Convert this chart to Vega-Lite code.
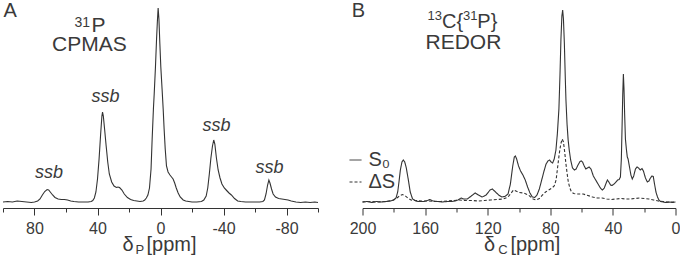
{
  "$schema": "https://vega.github.io/schema/vega-lite/v6.json",
  "padding": {"left": 0, "top": 0, "right": 0, "bottom": 0},
  "background": "white",
  "bounds": "flush",
  "spacing": 44.5,
  "resolve": {"legend": {"strokeDash": "independent"}},
  "config": {
    "view": {"stroke": null},
    "font": "Liberation Sans",
    "text": {"color": "#3a3a3a", "font": "Liberation Sans"},
    "axis": {"labelFont": "Liberation Sans", "labelFontSize": 16, "labelColor": "#3a3a3a", "domainColor": "#333333", "tickColor": "#333333", "grid": false, "labelFlush": false, "labelOverlap": false}
  },
  "datasets": {
    "specA": [
      {"ppm": 100, "intensity": 2}, {"ppm": 97, "intensity": 2.5}, {"ppm": 94, "intensity": 2}, {"ppm": 91, "intensity": 3}, {"ppm": 88, "intensity": 2.5}, {"ppm": 85, "intensity": 2}, {"ppm": 82, "intensity": 1.5}, {"ppm": 80, "intensity": 2}, {"ppm": 78, "intensity": 3}, {"ppm": 76.5, "intensity": 5}, {"ppm": 75, "intensity": 9}, {"ppm": 73.5, "intensity": 12.5}, {"ppm": 72, "intensity": 14.5}, {"ppm": 71, "intensity": 14}, {"ppm": 70, "intensity": 12}, {"ppm": 68.5, "intensity": 9}, {"ppm": 67, "intensity": 6.5}, {"ppm": 65, "intensity": 5}, {"ppm": 63, "intensity": 4.5}, {"ppm": 61, "intensity": 4.5}, {"ppm": 59, "intensity": 4}, {"ppm": 57, "intensity": 3}, {"ppm": 55, "intensity": 2.5}, {"ppm": 52, "intensity": 2}, {"ppm": 49, "intensity": 2}, {"ppm": 46, "intensity": 2}, {"ppm": 44, "intensity": 2.5}, {"ppm": 43, "intensity": 3.5}, {"ppm": 42, "intensity": 6}, {"ppm": 41, "intensity": 12}, {"ppm": 40, "intensity": 25}, {"ppm": 39, "intensity": 45}, {"ppm": 38, "intensity": 70}, {"ppm": 37.2, "intensity": 88}, {"ppm": 36.8, "intensity": 92}, {"ppm": 36.3, "intensity": 88}, {"ppm": 35.5, "intensity": 75}, {"ppm": 34.5, "intensity": 58}, {"ppm": 33.5, "intensity": 42}, {"ppm": 32.5, "intensity": 30}, {"ppm": 31, "intensity": 22}, {"ppm": 29.5, "intensity": 18}, {"ppm": 28, "intensity": 16.5}, {"ppm": 27, "intensity": 17}, {"ppm": 26, "intensity": 16.5}, {"ppm": 24.5, "intensity": 14}, {"ppm": 23, "intensity": 10}, {"ppm": 21, "intensity": 6.5}, {"ppm": 19, "intensity": 4.5}, {"ppm": 17, "intensity": 3.5}, {"ppm": 15, "intensity": 3}, {"ppm": 13, "intensity": 2.5}, {"ppm": 11, "intensity": 3}, {"ppm": 10, "intensity": 4}, {"ppm": 9, "intensity": 6}, {"ppm": 8, "intensity": 9}, {"ppm": 7, "intensity": 16}, {"ppm": 6, "intensity": 35}, {"ppm": 5.3, "intensity": 65}, {"ppm": 4.5, "intensity": 95}, {"ppm": 4, "intensity": 110}, {"ppm": 3.2, "intensity": 137}, {"ppm": 2.5, "intensity": 165}, {"ppm": 2, "intensity": 182}, {"ppm": 1.5, "intensity": 196}, {"ppm": 1, "intensity": 185}, {"ppm": 0.4, "intensity": 160}, {"ppm": -0.2, "intensity": 137}, {"ppm": -1, "intensity": 115}, {"ppm": -1.7, "intensity": 95}, {"ppm": -2.3, "intensity": 75}, {"ppm": -3, "intensity": 55}, {"ppm": -3.8, "intensity": 38}, {"ppm": -4.8, "intensity": 32}, {"ppm": -6, "intensity": 29}, {"ppm": -7, "intensity": 27}, {"ppm": -8, "intensity": 25}, {"ppm": -9, "intensity": 21}, {"ppm": -10, "intensity": 16}, {"ppm": -11.2, "intensity": 11}, {"ppm": -12.5, "intensity": 7}, {"ppm": -14.4, "intensity": 4}, {"ppm": -16, "intensity": 3}, {"ppm": -18, "intensity": 2.5}, {"ppm": -20, "intensity": 2}, {"ppm": -23, "intensity": 2}, {"ppm": -26, "intensity": 2.5}, {"ppm": -27.5, "intensity": 4}, {"ppm": -29, "intensity": 8}, {"ppm": -30, "intensity": 16}, {"ppm": -31, "intensity": 30}, {"ppm": -32, "intensity": 46}, {"ppm": -33, "intensity": 58}, {"ppm": -33.8, "intensity": 64}, {"ppm": -34.5, "intensity": 60}, {"ppm": -35.5, "intensity": 46}, {"ppm": -36.6, "intensity": 34}, {"ppm": -37.8, "intensity": 26}, {"ppm": -39, "intensity": 20}, {"ppm": -40.5, "intensity": 16}, {"ppm": -42, "intensity": 13.5}, {"ppm": -43.5, "intensity": 11}, {"ppm": -45, "intensity": 9}, {"ppm": -47, "intensity": 5.5}, {"ppm": -49, "intensity": 3}, {"ppm": -51, "intensity": 2.5}, {"ppm": -54, "intensity": 2}, {"ppm": -57, "intensity": 2}, {"ppm": -60, "intensity": 2}, {"ppm": -63, "intensity": 2}, {"ppm": -65, "intensity": 2.5}, {"ppm": -66, "intensity": 4}, {"ppm": -67, "intensity": 10}, {"ppm": -68, "intensity": 19}, {"ppm": -68.8, "intensity": 24}, {"ppm": -69.5, "intensity": 21}, {"ppm": -70.5, "intensity": 15}, {"ppm": -71.5, "intensity": 10}, {"ppm": -73, "intensity": 7}, {"ppm": -75, "intensity": 5.5}, {"ppm": -77, "intensity": 5}, {"ppm": -79, "intensity": 4.5}, {"ppm": -81, "intensity": 4}, {"ppm": -83, "intensity": 3}, {"ppm": -86, "intensity": 2}, {"ppm": -89, "intensity": 1.5}, {"ppm": -92, "intensity": 2}, {"ppm": -95, "intensity": 1.5}, {"ppm": -98, "intensity": 2}, {"ppm": -100, "intensity": 1.5}
    ],
    "specB": [
      {"series": "S₀", "ppm": 200, "intensity": 2}, {"series": "S₀", "ppm": 197, "intensity": 2.5}, {"series": "S₀", "ppm": 194, "intensity": 1.5}, {"series": "S₀", "ppm": 191, "intensity": 2.5}, {"series": "S₀", "ppm": 188, "intensity": 2}, {"series": "S₀", "ppm": 185, "intensity": 2.5}, {"series": "S₀", "ppm": 182, "intensity": 3}, {"series": "S₀", "ppm": 180, "intensity": 4}, {"series": "S₀", "ppm": 178.6, "intensity": 6}, {"series": "S₀", "ppm": 177.5, "intensity": 12}, {"series": "S₀", "ppm": 176.7, "intensity": 22}, {"series": "S₀", "ppm": 175.8, "intensity": 34}, {"series": "S₀", "ppm": 174.8, "intensity": 42}, {"series": "S₀", "ppm": 173.9, "intensity": 44}, {"series": "S₀", "ppm": 173, "intensity": 42}, {"series": "S₀", "ppm": 172, "intensity": 36}, {"series": "S₀", "ppm": 170.7, "intensity": 24}, {"series": "S₀", "ppm": 169.5, "intensity": 12}, {"series": "S₀", "ppm": 168, "intensity": 5}, {"series": "S₀", "ppm": 166, "intensity": 3}, {"series": "S₀", "ppm": 164, "intensity": 2.5}, {"series": "S₀", "ppm": 161, "intensity": 2.5}, {"series": "S₀", "ppm": 158.5, "intensity": 3.5}, {"series": "S₀", "ppm": 157, "intensity": 4.5}, {"series": "S₀", "ppm": 155, "intensity": 3}, {"series": "S₀", "ppm": 152, "intensity": 2.5}, {"series": "S₀", "ppm": 149, "intensity": 2}, {"series": "S₀", "ppm": 146, "intensity": 2.5}, {"series": "S₀", "ppm": 143, "intensity": 2.5}, {"series": "S₀", "ppm": 141, "intensity": 3}, {"series": "S₀", "ppm": 139, "intensity": 4}, {"series": "S₀", "ppm": 137, "intensity": 6}, {"series": "S₀", "ppm": 135.5, "intensity": 5}, {"series": "S₀", "ppm": 133, "intensity": 5}, {"series": "S₀", "ppm": 130.5, "intensity": 8}, {"series": "S₀", "ppm": 128, "intensity": 11}, {"series": "S₀", "ppm": 126, "intensity": 9}, {"series": "S₀", "ppm": 123.5, "intensity": 7}, {"series": "S₀", "ppm": 121, "intensity": 9}, {"series": "S₀", "ppm": 118.5, "intensity": 14}, {"series": "S₀", "ppm": 117, "intensity": 15}, {"series": "S₀", "ppm": 115, "intensity": 12}, {"series": "S₀", "ppm": 113, "intensity": 9}, {"series": "S₀", "ppm": 111, "intensity": 7}, {"series": "S₀", "ppm": 109, "intensity": 7.5}, {"series": "S₀", "ppm": 107, "intensity": 10}, {"series": "S₀", "ppm": 105.5, "intensity": 20}, {"series": "S₀", "ppm": 104, "intensity": 38}, {"series": "S₀", "ppm": 103, "intensity": 47}, {"series": "S₀", "ppm": 102.3, "intensity": 48}, {"series": "S₀", "ppm": 101.5, "intensity": 45}, {"series": "S₀", "ppm": 100.3, "intensity": 38}, {"series": "S₀", "ppm": 99, "intensity": 33}, {"series": "S₀", "ppm": 97.5, "intensity": 29}, {"series": "S₀", "ppm": 96, "intensity": 24}, {"series": "S₀", "ppm": 94.5, "intensity": 17}, {"series": "S₀", "ppm": 93, "intensity": 11}, {"series": "S₀", "ppm": 91.5, "intensity": 7}, {"series": "S₀", "ppm": 90, "intensity": 6.5}, {"series": "S₀", "ppm": 88.5, "intensity": 9}, {"series": "S₀", "ppm": 87, "intensity": 15}, {"series": "S₀", "ppm": 85.5, "intensity": 24}, {"series": "S₀", "ppm": 84, "intensity": 33}, {"series": "S₀", "ppm": 82.7, "intensity": 40}, {"series": "S₀", "ppm": 81.5, "intensity": 43}, {"series": "S₀", "ppm": 80.5, "intensity": 44}, {"series": "S₀", "ppm": 79.5, "intensity": 42}, {"series": "S₀", "ppm": 78.5, "intensity": 41}, {"series": "S₀", "ppm": 77.5, "intensity": 45}, {"series": "S₀", "ppm": 76.4, "intensity": 54}, {"series": "S₀", "ppm": 75.5, "intensity": 70}, {"series": "S₀", "ppm": 74.5, "intensity": 95}, {"series": "S₀", "ppm": 73.8, "intensity": 130}, {"series": "S₀", "ppm": 73.2, "intensity": 165}, {"series": "S₀", "ppm": 72.6, "intensity": 188}, {"series": "S₀", "ppm": 72.1, "intensity": 194}, {"series": "S₀", "ppm": 71.6, "intensity": 185}, {"series": "S₀", "ppm": 71, "intensity": 160}, {"series": "S₀", "ppm": 70.4, "intensity": 125}, {"series": "S₀", "ppm": 70, "intensity": 104}, {"series": "S₀", "ppm": 69.3, "intensity": 80}, {"series": "S₀", "ppm": 68.6, "intensity": 64}, {"series": "S₀", "ppm": 67.9, "intensity": 54}, {"series": "S₀", "ppm": 67, "intensity": 44}, {"series": "S₀", "ppm": 65.8, "intensity": 36}, {"series": "S₀", "ppm": 64.6, "intensity": 34}, {"series": "S₀", "ppm": 63.5, "intensity": 35}, {"series": "S₀", "ppm": 62.3, "intensity": 39}, {"series": "S₀", "ppm": 61, "intensity": 42.5}, {"series": "S₀", "ppm": 60.2, "intensity": 43}, {"series": "S₀", "ppm": 59.4, "intensity": 42}, {"series": "S₀", "ppm": 58.3, "intensity": 38}, {"series": "S₀", "ppm": 57.3, "intensity": 35}, {"series": "S₀", "ppm": 56.3, "intensity": 36}, {"series": "S₀", "ppm": 55.2, "intensity": 37}, {"series": "S₀", "ppm": 54, "intensity": 35}, {"series": "S₀", "ppm": 52.5, "intensity": 28}, {"series": "S₀", "ppm": 51, "intensity": 24}, {"series": "S₀", "ppm": 49.5, "intensity": 20}, {"series": "S₀", "ppm": 48, "intensity": 16}, {"series": "S₀", "ppm": 46.7, "intensity": 14}, {"series": "S₀", "ppm": 45.5, "intensity": 16}, {"series": "S₀", "ppm": 44.3, "intensity": 21}, {"series": "S₀", "ppm": 43.5, "intensity": 24}, {"series": "S₀", "ppm": 42.6, "intensity": 22}, {"series": "S₀", "ppm": 41.5, "intensity": 19}, {"series": "S₀", "ppm": 40.5, "intensity": 18.5}, {"series": "S₀", "ppm": 39.3, "intensity": 20}, {"series": "S₀", "ppm": 38, "intensity": 22}, {"series": "S₀", "ppm": 37, "intensity": 24}, {"series": "S₀", "ppm": 36, "intensity": 24.5}, {"series": "S₀", "ppm": 35.2, "intensity": 27}, {"series": "S₀", "ppm": 34.6, "intensity": 45}, {"series": "S₀", "ppm": 34.1, "intensity": 80}, {"series": "S₀", "ppm": 33.7, "intensity": 110}, {"series": "S₀", "ppm": 33.3, "intensity": 130}, {"series": "S₀", "ppm": 32.9, "intensity": 115}, {"series": "S₀", "ppm": 32.5, "intensity": 90}, {"series": "S₀", "ppm": 32, "intensity": 65}, {"series": "S₀", "ppm": 31.4, "intensity": 55}, {"series": "S₀", "ppm": 30.8, "intensity": 47}, {"series": "S₀", "ppm": 30.3, "intensity": 45}, {"series": "S₀", "ppm": 29.5, "intensity": 38}, {"series": "S₀", "ppm": 28.5, "intensity": 29}, {"series": "S₀", "ppm": 27.6, "intensity": 25}, {"series": "S₀", "ppm": 26.7, "intensity": 28}, {"series": "S₀", "ppm": 25.6, "intensity": 35}, {"series": "S₀", "ppm": 24.6, "intensity": 37}, {"series": "S₀", "ppm": 23.6, "intensity": 36}, {"series": "S₀", "ppm": 22.5, "intensity": 34}, {"series": "S₀", "ppm": 21.4, "intensity": 35.5}, {"series": "S₀", "ppm": 20.5, "intensity": 33}, {"series": "S₀", "ppm": 19.2, "intensity": 26}, {"series": "S₀", "ppm": 18, "intensity": 22}, {"series": "S₀", "ppm": 17, "intensity": 23}, {"series": "S₀", "ppm": 16, "intensity": 26}, {"series": "S₀", "ppm": 15, "intensity": 28}, {"series": "S₀", "ppm": 14.2, "intensity": 27.5}, {"series": "S₀", "ppm": 13.4, "intensity": 20}, {"series": "S₀", "ppm": 12.5, "intensity": 12}, {"series": "S₀", "ppm": 11.5, "intensity": 7}, {"series": "S₀", "ppm": 10.6, "intensity": 4}, {"series": "S₀", "ppm": 9.5, "intensity": 2.5}, {"series": "S₀", "ppm": 8, "intensity": 2}, {"series": "S₀", "ppm": 6, "intensity": 1.5}, {"series": "S₀", "ppm": 4, "intensity": 2}, {"series": "S₀", "ppm": 2, "intensity": 1.5}, {"series": "S₀", "ppm": 0, "intensity": 2},
      {"series": "ΔS", "ppm": 200, "intensity": 2}, {"series": "ΔS", "ppm": 195, "intensity": 2.5}, {"series": "ΔS", "ppm": 190, "intensity": 2}, {"series": "ΔS", "ppm": 185, "intensity": 2.5}, {"series": "ΔS", "ppm": 181, "intensity": 3.5}, {"series": "ΔS", "ppm": 178, "intensity": 6}, {"series": "ΔS", "ppm": 176, "intensity": 8.5}, {"series": "ΔS", "ppm": 174.5, "intensity": 9.5}, {"series": "ΔS", "ppm": 173, "intensity": 8.5}, {"series": "ΔS", "ppm": 171, "intensity": 6}, {"series": "ΔS", "ppm": 169, "intensity": 4}, {"series": "ΔS", "ppm": 166, "intensity": 3.5}, {"series": "ΔS", "ppm": 162, "intensity": 3}, {"series": "ΔS", "ppm": 158, "intensity": 3}, {"series": "ΔS", "ppm": 154, "intensity": 2.5}, {"series": "ΔS", "ppm": 150, "intensity": 2.5}, {"series": "ΔS", "ppm": 146, "intensity": 3}, {"series": "ΔS", "ppm": 142, "intensity": 3.5}, {"series": "ΔS", "ppm": 138, "intensity": 4}, {"series": "ΔS", "ppm": 134, "intensity": 3.5}, {"series": "ΔS", "ppm": 130, "intensity": 3.5}, {"series": "ΔS", "ppm": 126, "intensity": 3}, {"series": "ΔS", "ppm": 122, "intensity": 3.5}, {"series": "ΔS", "ppm": 118, "intensity": 4}, {"series": "ΔS", "ppm": 114, "intensity": 4.5}, {"series": "ΔS", "ppm": 110, "intensity": 5}, {"series": "ΔS", "ppm": 107, "intensity": 7}, {"series": "ΔS", "ppm": 105, "intensity": 11}, {"series": "ΔS", "ppm": 103.5, "intensity": 14}, {"series": "ΔS", "ppm": 102, "intensity": 13}, {"series": "ΔS", "ppm": 100, "intensity": 11.5}, {"series": "ΔS", "ppm": 97, "intensity": 11}, {"series": "ΔS", "ppm": 94, "intensity": 9}, {"series": "ΔS", "ppm": 91, "intensity": 5}, {"series": "ΔS", "ppm": 89, "intensity": 4}, {"series": "ΔS", "ppm": 87, "intensity": 5.5}, {"series": "ΔS", "ppm": 85, "intensity": 9}, {"series": "ΔS", "ppm": 83, "intensity": 12}, {"series": "ΔS", "ppm": 81, "intensity": 14}, {"series": "ΔS", "ppm": 79, "intensity": 16}, {"series": "ΔS", "ppm": 77.5, "intensity": 18}, {"series": "ΔS", "ppm": 76.3, "intensity": 24}, {"series": "ΔS", "ppm": 75.3, "intensity": 37}, {"series": "ΔS", "ppm": 74.3, "intensity": 50}, {"series": "ΔS", "ppm": 73.3, "intensity": 60}, {"series": "ΔS", "ppm": 72.4, "intensity": 65}, {"series": "ΔS", "ppm": 71.6, "intensity": 62}, {"series": "ΔS", "ppm": 70.8, "intensity": 52}, {"series": "ΔS", "ppm": 70, "intensity": 40}, {"series": "ΔS", "ppm": 69.2, "intensity": 30}, {"series": "ΔS", "ppm": 68.5, "intensity": 22}, {"series": "ΔS", "ppm": 67.5, "intensity": 16}, {"series": "ΔS", "ppm": 66.5, "intensity": 12}, {"series": "ΔS", "ppm": 65, "intensity": 10.5}, {"series": "ΔS", "ppm": 63, "intensity": 10}, {"series": "ΔS", "ppm": 61, "intensity": 10}, {"series": "ΔS", "ppm": 59, "intensity": 10}, {"series": "ΔS", "ppm": 57, "intensity": 9}, {"series": "ΔS", "ppm": 53, "intensity": 7}, {"series": "ΔS", "ppm": 50, "intensity": 6}, {"series": "ΔS", "ppm": 47, "intensity": 6}, {"series": "ΔS", "ppm": 44, "intensity": 5}, {"series": "ΔS", "ppm": 41, "intensity": 4.5}, {"series": "ΔS", "ppm": 38, "intensity": 5}, {"series": "ΔS", "ppm": 35, "intensity": 5.5}, {"series": "ΔS", "ppm": 32, "intensity": 5}, {"series": "ΔS", "ppm": 29, "intensity": 5}, {"series": "ΔS", "ppm": 26, "intensity": 5.5}, {"series": "ΔS", "ppm": 23, "intensity": 6}, {"series": "ΔS", "ppm": 20, "intensity": 5.5}, {"series": "ΔS", "ppm": 17, "intensity": 5}, {"series": "ΔS", "ppm": 14, "intensity": 4}, {"series": "ΔS", "ppm": 11, "intensity": 3}, {"series": "ΔS", "ppm": 8, "intensity": 2.5}, {"series": "ΔS", "ppm": 5, "intensity": 2}, {"series": "ΔS", "ppm": 2, "intensity": 2}, {"series": "ΔS", "ppm": 0, "intensity": 2}
    ],
    "annA": [
      {"role": "panel", "ppm": 99.7, "intensity": 187, "label": "A"},
      {"role": "sup", "ppm": 54.6, "intensity": 177, "label": "31"},
      {"role": "big", "ppm": 43.8, "intensity": 172, "label": "P"},
      {"role": "center", "ppm": 45.1, "intensity": 153, "label": "CPMAS"},
      {"role": "ssb", "ppm": 70.8, "intensity": 26, "label": "ssb"},
      {"role": "ssb", "ppm": 34.9, "intensity": 102, "label": "ssb"},
      {"role": "ssb", "ppm": -35.6, "intensity": 73, "label": "ssb"},
      {"role": "ssb", "ppm": -69.2, "intensity": 31, "label": "ssb"},
      {"role": "axis", "ppm": 24.1, "intensity": -47, "label": "δ"},
      {"role": "sub", "ppm": 15.9, "intensity": -50, "label": "P"},
      {"role": "axis", "ppm": 8.9, "intensity": -47, "label": "[ppm]"}
    ],
    "annB": [
      {"role": "panel", "ppm": 206.8, "intensity": 187, "label": "B"},
      {"role": "sup", "ppm": 158.5, "intensity": 184, "label": "13"},
      {"role": "big", "ppm": 149.2, "intensity": 176, "label": "C{"},
      {"role": "sup", "ppm": 135.8, "intensity": 184, "label": "31"},
      {"role": "big", "ppm": 126.6, "intensity": 176, "label": "P}"},
      {"role": "center", "ppm": 135.5, "intensity": 155.5, "label": "REDOR"},
      {"role": "axis", "ppm": 122.4, "intensity": -47, "label": "δ"},
      {"role": "sub", "ppm": 113.3, "intensity": -50, "label": "C"},
      {"role": "axis", "ppm": 105.5, "intensity": -47, "label": "[ppm]"}
    ]
  },
  "hconcat": [
    {
      "width": 315,
      "height": 208,
      "encoding": {
        "x": {"field": "ppm", "type": "quantitative", "scale": {"domain": [-100, 100], "reverse": true},
          "axis": {"values": [100, 80, 60, 40, 20, 0, -20, -40, -60, -80, -100], "title": null,
            "labelExpr": "datum.value % 40 === 0 ? '' + datum.value : ''",
            "tickSize": {"condition": {"test": "datum.value % 40 === 0", "value": 7}, "value": 4},
            "labelPadding": 5}},
        "y": {"field": "intensity", "type": "quantitative", "scale": {"domain": [-4, 204]}, "axis": null}
      },
      "layer": [
        {"data": {"name": "specA"}, "mark": {"type": "line", "color": "#333333", "strokeWidth": 1.1}},
        {"data": {"name": "annA"}, "transform": [{"filter": "datum.role === 'panel'"}], "mark": {"type": "text", "fontSize": 20, "align": "left", "baseline": "alphabetic"}, "encoding": {"text": {"field": "label"}}},
        {"data": {"name": "annA"}, "transform": [{"filter": "datum.role === 'big'"}], "mark": {"type": "text", "fontSize": 21, "align": "left", "baseline": "alphabetic"}, "encoding": {"text": {"field": "label"}}},
        {"data": {"name": "annA"}, "transform": [{"filter": "datum.role === 'center'"}], "mark": {"type": "text", "fontSize": 21, "align": "center", "baseline": "alphabetic"}, "encoding": {"text": {"field": "label"}}},
        {"data": {"name": "annA"}, "transform": [{"filter": "datum.role === 'sup'"}], "mark": {"type": "text", "fontSize": 14, "align": "left", "baseline": "alphabetic"}, "encoding": {"text": {"field": "label"}}},
        {"data": {"name": "annA"}, "transform": [{"filter": "datum.role === 'ssb'"}], "mark": {"type": "text", "fontSize": 18, "fontStyle": "italic", "align": "center", "baseline": "alphabetic"}, "encoding": {"text": {"field": "label"}}},
        {"data": {"name": "annA"}, "transform": [{"filter": "datum.role === 'axis'"}], "mark": {"type": "text", "fontSize": 20, "align": "left", "baseline": "alphabetic"}, "encoding": {"text": {"field": "label"}}},
        {"data": {"name": "annA"}, "transform": [{"filter": "datum.role === 'sub'"}], "mark": {"type": "text", "fontSize": 13, "align": "left", "baseline": "alphabetic"}, "encoding": {"text": {"field": "label"}}}
      ]
    },
    {
      "width": 313,
      "height": 208,
      "encoding": {
        "x": {"field": "ppm", "type": "quantitative", "scale": {"domain": [0, 200], "reverse": true},
          "axis": {"values": [200, 180, 160, 140, 120, 100, 80, 60, 40, 20, 0], "title": null,
            "labelExpr": "datum.value % 40 === 0 ? '' + datum.value : ''",
            "tickSize": {"condition": {"test": "datum.value % 40 === 0", "value": 7}, "value": 4},
            "labelPadding": 5}},
        "y": {"field": "intensity", "type": "quantitative", "scale": {"domain": [-4, 204]}, "axis": null}
      },
      "layer": [
        {"data": {"name": "specB"}, "mark": {"type": "line", "color": "#333333", "strokeWidth": 1.1},
          "encoding": {"strokeDash": {"field": "series", "type": "nominal",
            "scale": {"domain": ["S₀", "ΔS"], "range": [[1, 0], [3, 2]]},
            "legend": {"title": null, "orient": "none", "legendX": -17, "legendY": 150, "symbolType": "stroke", "symbolSize": 144, "symbolStrokeWidth": 1, "symbolStrokeColor": "#333333", "labelFontSize": 20, "labelFont": "Liberation Sans", "labelColor": "#3a3a3a", "rowPadding": 2, "labelOffset": 3}}}},
        {"data": {"name": "annB"}, "transform": [{"filter": "datum.role === 'panel'"}], "mark": {"type": "text", "fontSize": 20, "align": "left", "baseline": "alphabetic"}, "encoding": {"text": {"field": "label"}}},
        {"data": {"name": "annB"}, "transform": [{"filter": "datum.role === 'big'"}], "mark": {"type": "text", "fontSize": 20, "align": "left", "baseline": "alphabetic"}, "encoding": {"text": {"field": "label"}}},
        {"data": {"name": "annB"}, "transform": [{"filter": "datum.role === 'center'"}], "mark": {"type": "text", "fontSize": 21, "align": "center", "baseline": "alphabetic"}, "encoding": {"text": {"field": "label"}}},
        {"data": {"name": "annB"}, "transform": [{"filter": "datum.role === 'sup'"}], "mark": {"type": "text", "fontSize": 13, "align": "left", "baseline": "alphabetic"}, "encoding": {"text": {"field": "label"}}},
        {"data": {"name": "annB"}, "transform": [{"filter": "datum.role === 'axis'"}], "mark": {"type": "text", "fontSize": 20, "align": "left", "baseline": "alphabetic"}, "encoding": {"text": {"field": "label"}}},
        {"data": {"name": "annB"}, "transform": [{"filter": "datum.role === 'sub'"}], "mark": {"type": "text", "fontSize": 13, "align": "left", "baseline": "alphabetic"}, "encoding": {"text": {"field": "label"}}}
      ]
    }
  ]
}
